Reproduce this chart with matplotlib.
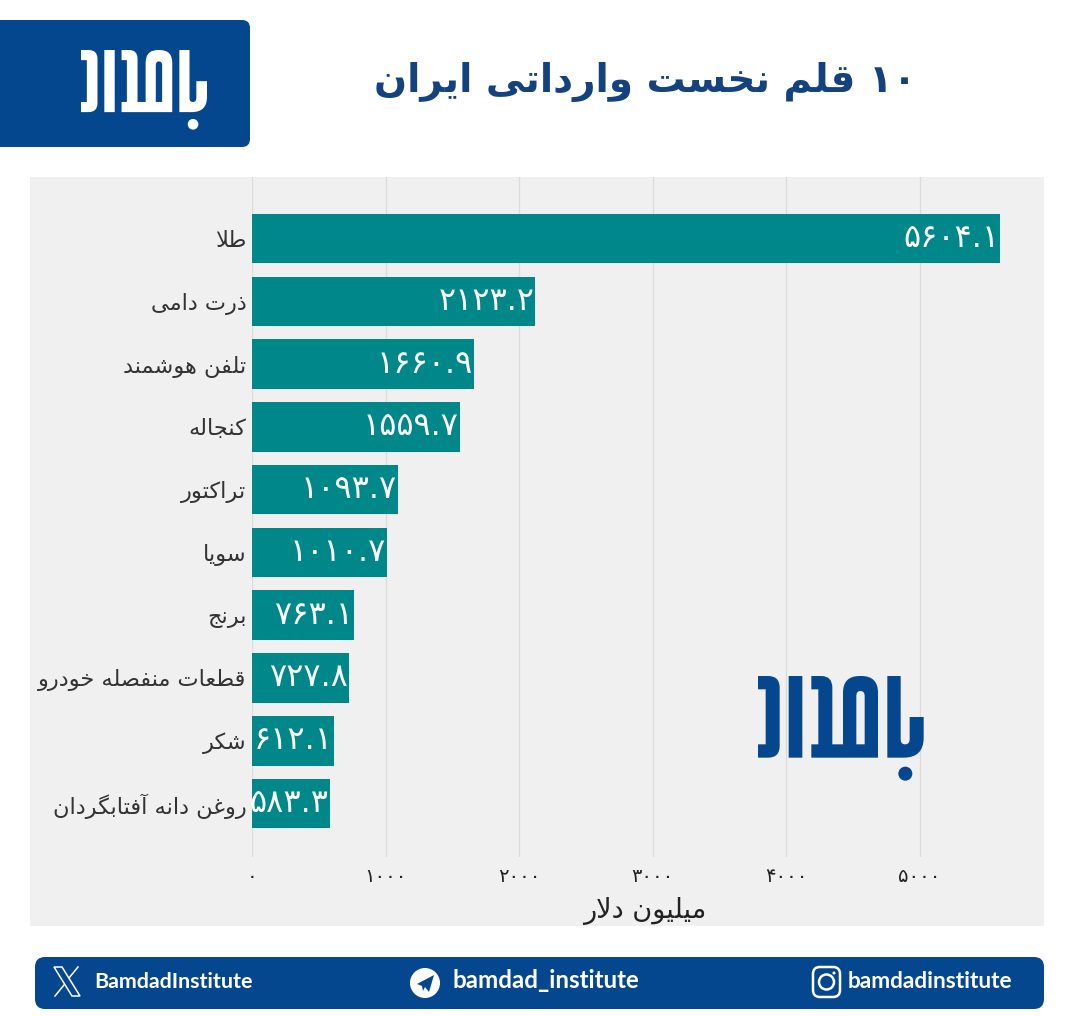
import matplotlib
matplotlib.use("Agg")
import matplotlib.pyplot as plt
from matplotlib.path import Path
from matplotlib.patches import PathPatch, Circle, FancyBboxPatch, Rectangle, Polygon

plt.rcParams['font.family'] = ['DejaVu Sans']

# data
categories = ["طلا", "ذرت دامی", "تلفن هوشمند", "کنجاله", "تراکتور", "سویا",
              "برنج", "قطعات منفصله خودرو", "شکر", "روغن دانه آفتابگردان"]
values = [5604.1, 2123.2, 1660.9, 1559.7, 1093.7, 1010.7, 763.1, 727.8, 612.1, 583.3]
xticks = [0, 1000, 2000, 3000, 4000, 5000]
title_text = "۱۰ قلم نخست وارداتی ایران"
xlabel_text = "میلیون دلار"

navy = "#05478f"
teal = "#00878a"
panel = "#f0f0f0"

# matplotlib has no arabic shaping so pick the presentation forms by hand
forms = {
    "ا": (0xFE8D, 0xFE8E), "آ": (0xFE81, 0xFE82), "د": (0xFEA9, 0xFEAA),
    "ذ": (0xFEAB, 0xFEAC), "ر": (0xFEAD, 0xFEAE), "و": (0xFEED, 0xFEEE),
    "ب": (0xFE8F, 0xFE90, 0xFE91, 0xFE92), "پ": (0xFB56, 0xFB57, 0xFB58, 0xFB59),
    "ت": (0xFE95, 0xFE96, 0xFE97, 0xFE98), "ج": (0xFE9D, 0xFE9E, 0xFE9F, 0xFEA0),
    "چ": (0xFB7A, 0xFB7B, 0xFB7C, 0xFB7D), "خ": (0xFEA5, 0xFEA6, 0xFEA7, 0xFEA8),
    "س": (0xFEB1, 0xFEB2, 0xFEB3, 0xFEB4), "ش": (0xFEB5, 0xFEB6, 0xFEB7, 0xFEB8),
    "ص": (0xFEB9, 0xFEBA, 0xFEBB, 0xFEBC), "ط": (0xFEC1, 0xFEC2, 0xFEC3, 0xFEC4),
    "ع": (0xFEC9, 0xFECA, 0xFECB, 0xFECC), "غ": (0xFECD, 0xFECE, 0xFECF, 0xFED0),
    "ف": (0xFED1, 0xFED2, 0xFED3, 0xFED4), "ق": (0xFED5, 0xFED6, 0xFED7, 0xFED8),
    "ک": (0xFB8E, 0xFB8F, 0xFB90, 0xFB91), "گ": (0xFB92, 0xFB93, 0xFB94, 0xFB95),
    "ل": (0xFEDD, 0xFEDE, 0xFEDF, 0xFEE0), "م": (0xFEE1, 0xFEE2, 0xFEE3, 0xFEE4),
    "ن": (0xFEE5, 0xFEE6, 0xFEE7, 0xFEE8), "ه": (0xFEE9, 0xFEEA, 0xFEEB, 0xFEEC),
    "ی": (0xFBFC, 0xFBFD, 0xFBFE, 0xFBFF),
}


def shape_word(word):
    out = []
    i = 0
    joined = False
    while i < len(word):
        c = word[i]
        # lam alef ligature
        if c == "ل" and i + 1 < len(word) and word[i + 1] == "ا":
            out.append(chr(0xFEFC if joined else 0xFEFB))
            joined = False
            i += 2
            continue
        f = forms[c]
        can_next = len(f) == 4 and i + 1 < len(word)
        if joined and can_next:
            out.append(chr(f[3]))
        elif joined:
            out.append(chr(f[1]))
        elif can_next:
            out.append(chr(f[2]))
        else:
            out.append(chr(f[0]))
        joined = can_next
        i += 1
    return "".join(reversed(out))


def fa(text):
    words = []
    for w in text.split(" "):
        words.append(w if w[0] not in forms else shape_word(w))
    return " ".join(reversed(words))


def to_fa_digits(s):
    return s.translate(str.maketrans("0123456789", "۰۱۲۳۴۵۶۷۸۹"))


def draw_logo(ax, x0, y0, s, color):
    M, L, Q, C = Path.MOVETO, Path.LINETO, Path.CURVE3, Path.CLOSEPOLY
    parts = [
        [(M, 0, 0), (L, 30, 0), (Q, 65, 0), (Q, 65, 35), (L, 65, 210), (Q, 65, 245), (Q, 30, 245),
         (L, 0, 245), (L, 0, 205), (L, 23, 205), (L, 23, 40), (L, 0, 40), (C, 0, 0)],
        [(M, 92, 0), (L, 133, 0), (L, 133, 245), (L, 92, 245), (C, 92, 0)],
        [(M, 160, 0), (L, 190, 0), (Q, 223, 0), (Q, 223, 35), (L, 223, 205), (L, 255, 205), (L, 255, 50),
         (Q, 255, 0), (Q, 305, 0), (L, 310, 0), (Q, 360, 0), (Q, 360, 50), (L, 360, 245), (L, 160, 245),
         (L, 160, 205), (L, 181, 205), (L, 181, 40), (L, 160, 40), (C, 160, 0)],
        [(M, 295, 60), (L, 295, 205), (L, 320, 205), (L, 320, 60), (Q, 320, 45), (Q, 307, 45),
         (Q, 295, 45), (Q, 295, 60), (C, 295, 60)],
        [(M, 388, 0), (L, 428, 0), (L, 428, 190), (Q, 428, 205), (Q, 441, 205), (Q, 455, 205), (Q, 455, 190),
         (L, 455, 123), (L, 497, 123), (L, 497, 185), (Q, 497, 245), (Q, 437, 245), (L, 388, 245), (C, 388, 0)],
    ]
    codes = []
    verts = []
    for part in parts:
        for code, px, py in part:
            codes.append(code)
            verts.append((x0 + px * s, y0 + py * s))
    ax.add_patch(PathPatch(Path(verts, codes), facecolor=color, edgecolor="none"))
    ax.add_patch(Circle((x0 + 442 * s, y0 + 293 * s), 21 * s, facecolor=color, edgecolor="none"))


fig = plt.figure(figsize=(10.8, 10.16), dpi=100, facecolor="white")

# background layer, in image pixels
back = fig.add_axes([0, 0, 1, 1], zorder=0)
back.set_xlim(0, 1080)
back.set_ylim(1016, 0)
back.axis("off")
back.add_patch(Rectangle((30, 177), 1014, 749, facecolor=panel, edgecolor="none"))
back.add_patch(FancyBboxPatch((-20, 20), 270, 127, boxstyle="round,pad=0,rounding_size=8",
                              facecolor=navy, edgecolor="none"))
back.add_patch(FancyBboxPatch((35, 957), 1009, 52, boxstyle="round,pad=0,rounding_size=10",
                              facecolor=navy, edgecolor="none"))

# the chart
ax = fig.add_axes([252 / 1080, 1 - 857 / 1016, 792 / 1080, 680 / 1016], zorder=1, facecolor="none")
ypos = list(range(len(categories)))
ax.barh(ypos, values, height=0.79, color=teal, zorder=3)
ax.set_xlim(0, 792 / 0.1335)
ax.set_ylim(9.853, -0.983)
ax.set_xticks(xticks)
ax.set_xticklabels([to_fa_digits(str(t)) for t in xticks], fontsize=14, color="#222222")
ax.set_yticks(ypos)
ax.set_yticklabels([fa(c) for c in categories], fontsize=16.2, color="#333333")
ax.tick_params(axis="both", length=0)
ax.tick_params(axis="x", pad=7)
ax.tick_params(axis="y", pad=4)
ax.grid(axis="x", color="#dcdcdc", lw=1.0, zorder=1)
ax.set_axisbelow(True)
for side in ax.spines.values():
    side.set_visible(False)
for y, v in zip(ypos, values):
    ax.text(v - 8, y, to_fa_digits(f"{v:.1f}"), color="white", fontsize=23, ha="right", va="center", zorder=4)
ax.set_xlabel(fa(xlabel_text), fontsize=19.5, color="#222222", labelpad=8, x=0.496)

# top layer for logos, title and footer
over = fig.add_axes([0, 0, 1, 1], zorder=2, facecolor="none")
over.set_xlim(0, 1080)
over.set_ylim(1016, 0)
over.axis("off")
draw_logo(over, 81, 50, 0.2535, "white")
draw_logo(over, 758, 676, 1 / 3, navy)
over.text(645, 82, fa(title_text), fontsize=28, fontweight="bold", color="#14427f", ha="center", va="center")

# footer
foot = dict(color="white", fontweight="bold", family="Lato", va="center")
over.text(94, 982, "BamdadInstitute", ha="left", fontsize=15.4, **foot)
over.text(453, 981, "bamdad_institute", ha="left", fontsize=17.4, **foot)
over.text(848, 982, "bamdadinstitute", ha="left", fontsize=16.3, **foot)

# x icon
over.add_patch(Polygon([(54, 967), (62, 967), (80, 996), (72, 996)], facecolor="none", edgecolor="white", lw=1.1))
over.plot([78, 69], [967, 978], color="white", lw=1.1)
over.plot([64, 55], [985, 996], color="white", lw=1.1)
# telegram icon
over.add_patch(Circle((425, 983), 15, facecolor="white", edgecolor="none"))
over.add_patch(Polygon([(417, 984), (434, 975), (429, 992), (425, 987), (423, 991), (422, 986)],
                       facecolor=navy, edgecolor="none"))
# instagram icon
over.add_patch(FancyBboxPatch((813, 967), 27, 30, boxstyle="round,pad=0,rounding_size=7",
                              facecolor="none", edgecolor="white", lw=1.8))
over.add_patch(Circle((826.5, 982), 7.5, facecolor="none", edgecolor="white", lw=1.8))
over.add_patch(Circle((834, 973), 1.5, facecolor="white", edgecolor="none"))

fig.savefig("out.png", dpi=100)
